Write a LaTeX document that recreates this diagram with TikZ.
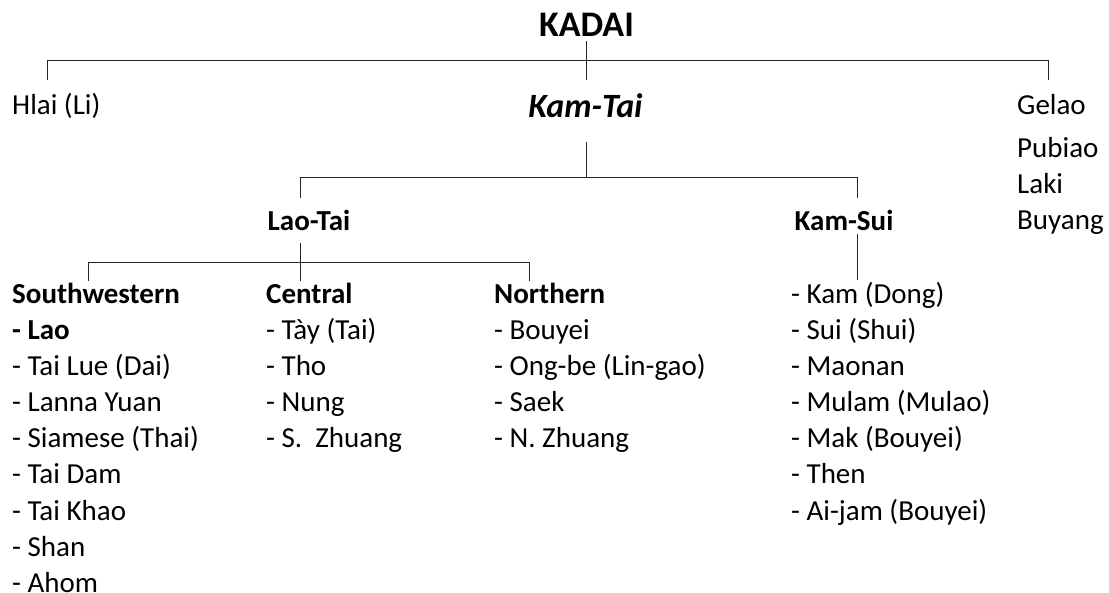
\documentclass[tikz,border=0pt]{standalone}
\usepackage{fontspec}
\setmainfont{Carlito}
\usetikzlibrary{positioning}
\tikzstyle{Raiz}=[inner sep=0pt, anchor=base, font=\fontsize{36}{40}\selectfont\bfseries]
\tikzstyle{Rama}=[inner sep=0pt, anchor=base, font=\fontsize{34}{38}\selectfont\bfseries\itshape]
\tikzstyle{Grupo}=[inner sep=0pt, anchor=base, font=\fontsize{29}{35}\selectfont\bfseries]
\tikzstyle{Lengua}=[inner sep=0pt, anchor=base west, font=\fontsize{29}{35}\selectfont]
\tikzstyle{Item}=[Lengua, text height=24pt, text depth=11.6pt]
\tikzstyle{Linea}=[line width=1pt, draw=black!85]

\begin{document}
\begin{tikzpicture}[x=1pt,y=-1pt]
			\useasboundingbox (0,0) rectangle (1109,593);
			%Nodos
			\node[Raiz]		(kadai)		at (586.5,37)		{KADAI};
			\node[Lengua]	(hlai)		at (12,115)			{Hlai (Li)};
			\node[Rama]		(kamtai)	at (585.5,118)		{Kam-Tai};
			\node[Lengua]	(gelao)		at (1017,115)		{Gelao};
			\node[Lengua]	(pubiao)	at (1017,158)		{Pubiao};
			\node[Lengua]	(laki)		at (1017,194)		{Laki};
			\node[Lengua]	(buyang)	at (1017,230)		{Buyang};

			\node[Grupo]	(laotai)	at (309,231)		{Lao-Tai};
			\node[Grupo]	(kamsui)	at (844,231)		{Kam-Sui};

			\node[Item, font=\fontsize{29}{35}\selectfont\bfseries]	(sw0)	at (12,304)	{Southwestern};
			\node[Item, font=\fontsize{29}{35}\selectfont\bfseries]	(sw1)	[below right=0pt of sw0.south west]	{- Lao};
			\node[Item]		(sw2)		[below right=0pt of sw1.south west]	{- Tai Lue (Dai)};
			\node[Item]		(sw3)		[below right=0pt of sw2.south west]	{- Lanna Yuan};
			\node[Item]		(sw4)		[below right=0pt of sw3.south west]	{- Siamese (Thai)};
			\node[Item]		(sw5)		[below right=0pt of sw4.south west]	{- Tai Dam};
			\node[Item]		(sw6)		[below right=0pt of sw5.south west]	{- Tai Khao};
			\node[Item]		(sw7)		[below right=0pt of sw6.south west]	{- Shan};
			\node[Item]		(sw8)		[below right=0pt of sw7.south west]	{- Ahom};

			\node[Item, font=\fontsize{29}{35}\selectfont\bfseries]	(ce0)	at (266,304)	{Central};
			\node[Item]		(ce1)		[below right=0pt of ce0.south west]	{- Tày (Tai)};
			\node[Item]		(ce2)		[below right=0pt of ce1.south west]	{- Tho};
			\node[Item]		(ce3)		[below right=0pt of ce2.south west]	{- Nung};
			\node[Item]		(ce4)		[below right=0pt of ce3.south west]	{- S.\ \ Zhuang};

			\node[Item, font=\fontsize{29}{35}\selectfont\bfseries]	(no0)	at (494,304)	{Northern};
			\node[Item]		(no1)		[below right=0pt of no0.south west]	{- Bouyei};
			\node[Item]		(no2)		[below right=0pt of no1.south west]	{- Ong-be (Lin-gao)};
			\node[Item]		(no3)		[below right=0pt of no2.south west]	{- Saek};
			\node[Item]		(no4)		[below right=0pt of no3.south west]	{- N. Zhuang};

			\node[Item]		(ks1)		at (791,304)	{- Kam (Dong)};
			\node[Item]		(ks2)		[below right=0pt of ks1.south west]	{- Sui (Shui)};
			\node[Item]		(ks3)		[below right=0pt of ks2.south west]	{- Maonan};
			\node[Item]		(ks4)		[below right=0pt of ks3.south west]	{- Mulam (Mulao)};
			\node[Item]		(ks5)		[below right=0pt of ks4.south west]	{- Mak (Bouyei)};
			\node[Item]		(ks6)		[below right=0pt of ks5.south west]	{- Then};
			\node[Item]		(ks7)		[below right=0pt of ks6.south west]	{- Ai-jam (Bouyei)};

			%Puntos
			\coordinate (hlai_t)	at (47,80);
			\coordinate (hlai_b)	at (47,61);
			\coordinate (gelao_b)	at (1048,61);
			\coordinate (gelao_t)	at (1048,80);
			\coordinate (kadai_t)	at (586.5,80);
			\coordinate (kamtai_s)	at (586.5,142);
			\coordinate (kamtai_b)	at (586.5,178);
			\coordinate (laotai_b)	at (300,178);
			\coordinate (laotai_t)	at (300,198);
			\coordinate (kamsui_b)	at (857,178);
			\coordinate (kamsui_t)	at (857,198);
			\coordinate (laotai_s)	at (300,243);
			\coordinate (central_t)	at (300,281);
			\coordinate (sw_b)		at (88,263);
			\coordinate (sw_t)		at (88,281);
			\coordinate (no_b)		at (529,263);
			\coordinate (no_t)		at (529,281);
			\coordinate (kamsui_s)	at (857,234);
			\coordinate (kamsui_e)	at (857,280);

			%Lineas
			\draw[Linea] (hlai_t) -- (hlai_b) -- (gelao_b) -- (gelao_t);
			\draw[Linea] ([yshift=-4pt]kadai.south) -- (kadai_t);
			\draw[Linea] (kamtai_s) -- (kamtai_b);
			\draw[Linea] (laotai_t) -- (laotai_b) -- (kamsui_b) -- (kamsui_t);
			\draw[Linea] (laotai_s) -- (central_t);
			\draw[Linea] (sw_t) -- (sw_b) -- (no_b) -- (no_t);
			\draw[Linea] (kamsui_s) -- (kamsui_e);

		\end{tikzpicture}
\end{document}
